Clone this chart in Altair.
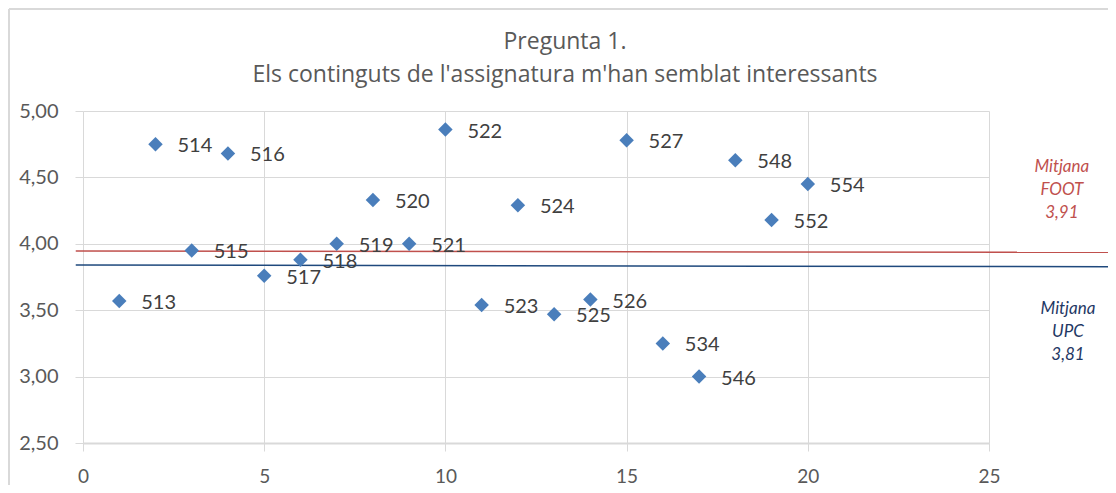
import altair as alt
import pandas as pd

# --- data ---
group_ids = ["513", "514", "515", "516", "517", "518", "519", "520", "521", "522",
             "523", "524", "525", "526", "527", "534", "546", "548", "552", "554"]
x_vals = [1, 2, 3, 4, 5, 6, 7, 8, 9, 10, 11, 12, 13, 14, 15, 16, 17, 18, 19, 20]
y_vals = [3.57, 4.75, 3.95, 4.68, 3.76, 3.88, 4.00, 4.33, 4.00, 4.86,
          3.54, 4.29, 3.47, 3.58, 4.78, 3.25, 3.00, 4.63, 4.18, 4.45]

mean_series = ["FOOT", "FOOT", "UPC", "UPC"]
mean_x = [-0.2, 28.6, -0.2, 28.6]
mean_y = [3.945, 3.936, 3.84, 3.827]

note_series = ["FOOT", "UPC"]
note_text = ["Mitjana\nFOOT\n3,91", "Mitjana\nUPC\n3,81"]
note_x = [27.01, 27.18]
note_y = [4.578, 3.509]

x_ticks = [0, 5, 10, 15, 20, 25]
y_ticks = [2.5, 3.0, 3.5, 4.0, 4.5, 5.0]

FONT = "Lato"
TITLE_FONT = "Open Sans"
GREY = "#595959"
RED = "#c0504d"
NAVY = "#1f3864"
LINE_NAVY = "#1f497d"
PT = "#4a7ebb"

pts = pd.DataFrame({"id": group_ids, "x": x_vals, "y": y_vals})
means = pd.DataFrame({"s": mean_series, "x": mean_x, "y": mean_y})
notes = pd.DataFrame({"s": note_series, "t": note_text, "x": note_x, "y": note_y})

xscale = alt.Scale(domain=[0, 25], nice=False)
yscale = alt.Scale(domain=[2.5, 5.0], nice=False, zero=False)

xaxis = alt.Axis(values=x_ticks, title=None, grid=True, gridColor="#d9d9d9",
                 domainColor="#d9d9d9", domainWidth=2, tickColor="#d9d9d9",
                 tickSize=8, labelPadding=16, labelFontSize=19, labelColor=GREY,
                 labelFont=FONT, labelFlush=False)
yaxis = alt.Axis(values=y_ticks, title=None, grid=True, gridColor="#d9d9d9",
                 domain=False, tickColor="#d9d9d9", tickSize=8, labelPadding=17,
                 labelFontSize=20, labelColor=GREY, labelFont=FONT, labelFlush=False,
                 labelExpr="replace(format(datum.value, '.2f'), '.', ',')")

base = alt.Chart(pts)

points = base.mark_point(shape="diamond", filled=True, size=210, opacity=1,
                         color=PT).encode(
    x=alt.X("x:Q", scale=xscale, axis=xaxis),
    y=alt.Y("y:Q", scale=yscale, axis=yaxis),
)

labels = base.mark_text(align="left", baseline="middle", dx=22, dy=2,
                        fontSize=20, font=FONT, color="#404040").encode(
    x=alt.X("x:Q", scale=xscale),
    y=alt.Y("y:Q", scale=yscale),
    text="id:N",
)

color_scale = alt.Scale(domain=["FOOT", "UPC"], range=[RED, LINE_NAVY])
lines = alt.Chart(means).mark_line(clip=False, strokeWidth=1.5).encode(
    x=alt.X("x:Q", scale=xscale),
    y=alt.Y("y:Q", scale=yscale),
    color=alt.Color("s:N", scale=color_scale, legend=None),
    detail="s:N",
)

note_scale = alt.Scale(domain=["FOOT", "UPC"], range=[RED, NAVY])
note_marks = alt.Chart(notes).mark_text(clip=False, align="center", baseline="middle",
                                        lineBreak="\n", lineHeight=23, fontSize=17,
                                        font=FONT, fontStyle="italic").encode(
    x=alt.X("x:Q", scale=xscale),
    y=alt.Y("y:Q", scale=yscale),
    text="t:N",
    color=alt.Color("s:N", scale=note_scale, legend=None),
)

border_top = alt.Chart(pts).mark_rule(clip=False, color="#d9d9d9", strokeWidth=2).encode(
    x=alt.value(-74), x2=alt.value(1030), y=alt.value(-102))
border_left = alt.Chart(pts).mark_rule(clip=False, color="#d9d9d9", strokeWidth=2).encode(
    x=alt.value(-74), y=alt.value(-102), y2=alt.value(380))

chart = alt.layer(border_top, border_left, lines, points, labels, note_marks).resolve_scale(
    color="independent"
).properties(
    width=906,
    height=332,
    title=alt.TitleParams(
        text=["Pregunta 1.", "Els continguts de l'assignatura m'han semblat interessants"],
        fontSize=23, font=TITLE_FONT, fontWeight="normal", color=GREY, anchor="middle",
        baseline="alphabetic", offset=0, dy=97, dx=29, lineHeight=32.6,
    ),
    autosize=alt.AutoSizeParams(type="none"),
    padding={"left": 75, "top": 103, "right": 119, "bottom": 42},
).configure_view(stroke=None)

chart.save("out.html", embed_options={"renderer": "svg", "actions": False})
